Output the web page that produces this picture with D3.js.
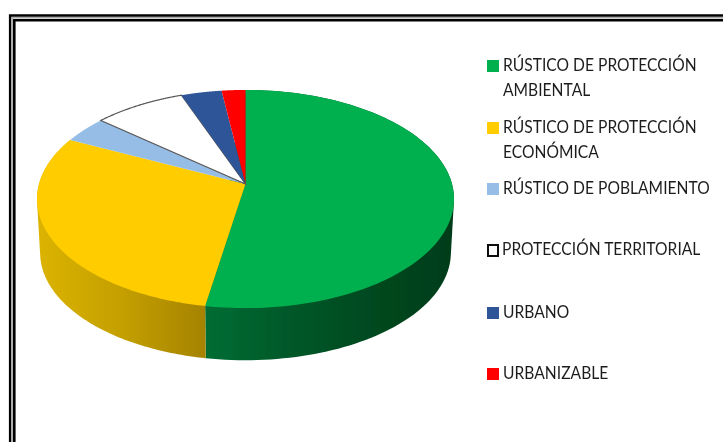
<!DOCTYPE html>
<html><head><meta charset="utf-8">
<script src="https://cdn.jsdelivr.net/npm/d3@7"></script>
<style>html,body{margin:0;padding:0;background:#fff;overflow:hidden}svg{display:block}</style>
</head><body><script>
const categories=["RÚSTICO DE PROTECCIÓN AMBIENTAL","RÚSTICO DE PROTECCIÓN ECONÓMICA","RÚSTICO DE POBLAMIENTO","PROTECCIÓN TERRITORIAL","URBANO","URBANIZABLE"];
const legendLines=[["RÚSTICO DE PROTECCIÓN","AMBIENTAL"],["RÚSTICO DE PROTECCIÓN","ECONÓMICA"],["RÚSTICO DE POBLAMIENTO"],["PROTECCIÓN TERRITORIAL"],["URBANO"],["URBANIZABLE"]];
const values=[52.7,29.5,4.0,8.1,3.6,2.1];
const colors=["#00b050","#ffcc00","#95bde6","#ffffff","#2f5597","#ff0000"];
const sideStops=[[["0","#006d33"],["0.3","#005a2a"],["0.65","#024a20"],["1","#003c19"]],[["0","#dcb300"],["0.5","#c4a000"],["1","#a58300"]]];

const W=723,H=442;
const svg=d3.select("body").append("svg").attr("width",W).attr("height",H);
const defs=svg.append("defs");
defs.append("filter").attr("id","soft").attr("x","-5%").attr("y","-5%").attr("width","110%").attr("height","110%")
  .append("feGaussianBlur").attr("stdDeviation",0.45);

// perspective disc
const cx=245.5,cy=184,A=206.5,B=107,k=0.1376,depth=54,shrink=0.985;
const project=(a,s=1,dy=0)=>{const u=Math.sin(a),v=-Math.cos(a),d=1-k*v;return [cx+s*A*u/d,cy+dy+s*B*v/d];};
const pie=d3.pie().sort(null).value(d=>d);
const arcs=pie(values);
const line=d3.line();
const arcPts=(a0,a1,s,dy)=>d3.range(0,121).map(i=>project(a0+(a1-a0)*i/120,s,dy));

// outer frame
const frame=svg.append("g").attr("filter","url(#soft)");
const frameSpec=[[10.1,15.5,"#000",2.4],[12.1,17.7,"#a8a8a8",1.6],[14.3,20.2,"#000",2.6]];
frameSpec.forEach(f=>frame.append("path").attr("fill","none").attr("stroke",f[2]).attr("stroke-width",f[3])
  .attr("d",d3.line()([[f[0],H+5],[f[0],f[1]],[W+5,f[1]]])));

// gradient fills for the rim
const rimX=(a0,a1)=>d3.extent(arcPts(a0,a1,1,0).map(p=>p[0]));
const g=svg.append("g").attr("filter","url(#soft)");
const rimArcs=[{a0:arcs[0].startAngle+1.3,a1:arcs[0].endAngle,i:0},{a0:arcs[1].startAngle,a1:arcs[1].endAngle-0.3,i:1}];
rimArcs.forEach(r=>{
  const e=rimX(r.a0,r.a1);
  const lg=defs.append("linearGradient").attr("id","rim"+r.i).attr("gradientUnits","userSpaceOnUse")
    .attr("x1",r.i===0?e[1]-(e[1]-e[0]):e[0]).attr("x2",e[1]).attr("y1",0).attr("y2",0);
  sideStops[r.i].forEach(s=>lg.append("stop").attr("offset",s[0]).attr("stop-color",s[1]));
});
arcs.forEach((d,i)=>{
  if(i>1) return;
  const hull=d3.polygonHull(arcPts(d.startAngle,d.endAngle,1,0).concat(arcPts(d.startAngle,d.endAngle,shrink,depth)));
  g.append("path").attr("d",line(hull)+"Z").attr("fill",`url(#rim${i})`);
});
arcs.forEach((d,i)=>{
  const pts=[[cx,cy]].concat(arcPts(d.startAngle,d.endAngle,1,0));
  g.append("path").attr("d",line(pts)+"Z").attr("fill",colors[i])
    .attr("stroke",i===3?"#555":"none").attr("stroke-width",i===3?1.2:0);
});

// legend
const legendY=[60,122,183,244,307,368];
const leg=svg.append("g").attr("filter","url(#soft)").attr("font-family","Lato, 'Open Sans', sans-serif").attr("fill","#1e1e1e");
categories.forEach((c,i)=>{
  const it=leg.append("g").attr("transform",`translate(487,${legendY[i]})`);
  it.append("rect").attr("x",i===3?1:0).attr("y",i===3?1:0).attr("width",i===3?10:12).attr("height",i===3?11:12)
    .attr("fill",colors[i]).attr("stroke",i===3?"#111":"none").attr("stroke-width",i===3?2:0);
  legendLines[i].forEach((t,j)=>it.append("text")
    .attr("transform",`translate(${i===3?15:16},${11+j*25}) scale(0.92,1)`)
    .attr("font-size",17).text(t));
});
</script></body></html>
